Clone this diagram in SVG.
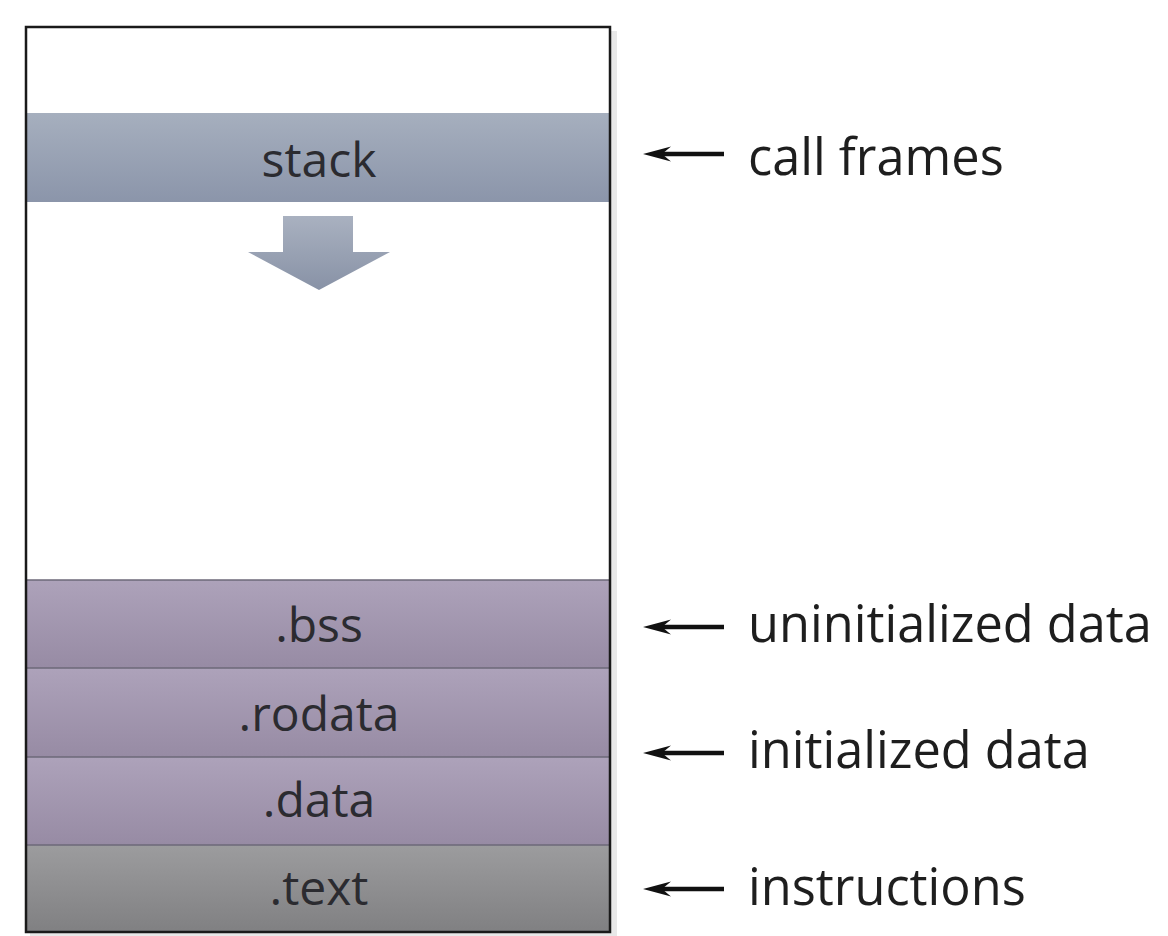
<svg xmlns="http://www.w3.org/2000/svg" width="1168" height="936" viewBox="0 0 1168 936">
<defs>
<linearGradient id="gStack" x1="0" y1="0" x2="0" y2="1"><stop offset="0" stop-color="#a6afbe"/><stop offset="1" stop-color="#8b95aa"/></linearGradient>
<linearGradient id="gData" x1="0" y1="0" x2="0" y2="1"><stop offset="0" stop-color="#ada2ba"/><stop offset="1" stop-color="#978ba4"/></linearGradient>
<linearGradient id="gText" x1="0" y1="0" x2="0" y2="1"><stop offset="0" stop-color="#9c9c9e"/><stop offset="1" stop-color="#808082"/></linearGradient>
<linearGradient id="gArrow" x1="0" y1="0" x2="0" y2="1"><stop offset="0" stop-color="#a9b1c0"/><stop offset="1" stop-color="#8892a6"/></linearGradient>
<marker id="ah" viewBox="0 0 28 18" refX="9" refY="9" markerWidth="28" markerHeight="18" markerUnits="userSpaceOnUse" orient="auto"><path d="M28,9 L0,1.5 L9,9 L0,16.5 Z" fill="#111"/></marker>
</defs>
<style>
.seg{font-family:"Open Sans","Noto Sans",sans-serif;font-size:48px;fill:#2b2b30;text-anchor:middle}
.lbl{font-family:"Open Sans","Noto Sans",sans-serif;font-size:50.5px;fill:#1e1e1e}
.div{stroke:#6c6878;stroke-width:1.5}
.conn{stroke:#111;stroke-width:4.5;fill:none}
</style>
<rect x="0" y="0" width="1168" height="936" fill="#ffffff"/>
<rect x="30" y="31" width="587" height="905" fill="#d8d8d8" opacity="0.6"/>
<g id="memory">
<rect x="26" y="27" width="584" height="905" fill="#ffffff"/>
<g id="stack">
<rect x="26" y="113" width="584" height="89" fill="url(#gStack)"/>
<text class="seg" x="319" y="177">stack</text>
</g>
<g id="grow-arrow">
<path d="M283,216 L353,216 L353,252 L390,252 L319,290 L248,252 L283,252 Z" fill="url(#gArrow)"/>
</g>
<g id="bss">
<rect x="26" y="580" width="584" height="88" fill="url(#gData)"/>
<text class="seg" x="319" y="642">.bss</text>
</g>
<g id="rodata">
<rect x="26" y="668" width="584" height="89" fill="url(#gData)"/>
<text class="seg" x="319" y="731">.rodata</text>
</g>
<g id="data">
<rect x="26" y="757" width="584" height="88" fill="url(#gData)"/>
<text class="seg" x="319" y="817">.data</text>
</g>
<g id="text">
<rect x="26" y="845" width="584" height="87" fill="url(#gText)"/>
<text class="seg" x="319" y="905">.text</text>
</g>
<line class="div" x1="26" y1="580" x2="610" y2="580"/>
<line class="div" x1="26" y1="668" x2="610" y2="668"/>
<line class="div" x1="26" y1="757" x2="610" y2="757"/>
<line class="div" x1="26" y1="845" x2="610" y2="845"/>
<rect x="26" y="27" width="584" height="905" fill="none" stroke="#1a1a1a" stroke-width="2.5"/>
</g>
<g id="connectors">
<line class="conn" x1="724" y1="154" x2="662" y2="154" marker-end="url(#ah)"/>
<line class="conn" x1="724" y1="627" x2="662" y2="627" marker-end="url(#ah)"/>
<line class="conn" x1="724" y1="753" x2="662" y2="753" marker-end="url(#ah)"/>
<line class="conn" x1="724" y1="889" x2="662" y2="889" marker-end="url(#ah)"/>
</g>
<g id="labels">
<text class="lbl" x="748" y="175">call frames</text>
<text class="lbl" x="748" y="642">uninitialized data</text>
<text class="lbl" x="748" y="768">initialized data</text>
<text class="lbl" x="748" y="905">instructions</text>
</g>
</svg>
